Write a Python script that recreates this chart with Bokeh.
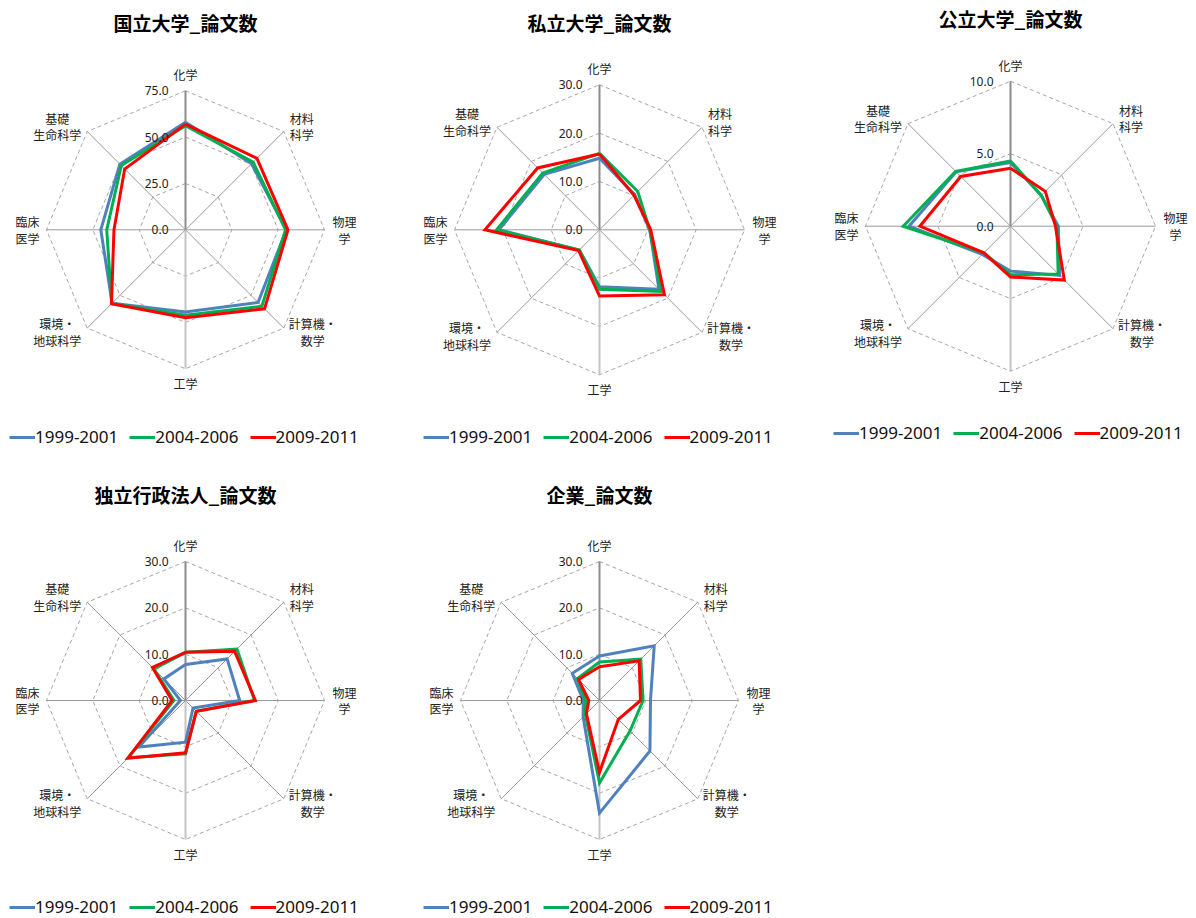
import numpy as np
from bokeh.plotting import figure
from bokeh.models import Range1d, Legend, LegendItem
from bokeh.layouts import column, row
from bokeh.core.properties import value
from bokeh.embed import file_html
from bokeh.resources import INLINE

# ---------------- data ----------------
categories = ["化学", "材料\n科学", "物理\n学", "計算機・\n数学", "工学",
              "環境・\n地球科学", "臨床\n医学", "基礎\n生命科学"]
periods = ["1999-2001", "2004-2006", "2009-2011"]

national_9901 = [58.0, 50.4, 54.4, 55.4, 44.3, 56.0, 45.7, 50.1]
national_0406 = [56.2, 51.6, 54.0, 58.3, 46.1, 56.3, 42.5, 49.0]
national_0911 = [57.0, 54.5, 55.3, 60.3, 47.4, 56.5, 38.6, 46.4]
national_ticks = [0.0, 25.0, 50.0, 75.0]

private_9901 = [14.8, 10.3, 10.4, 17.4, 11.8, 5.9, 20.8, 16.2]
private_0406 = [15.8, 11.2, 10.4, 18.0, 12.3, 5.9, 21.3, 16.6]
private_0911 = [15.7, 10.1, 10.6, 19.0, 13.7, 6.1, 23.7, 18.1]
private_ticks = [0.0, 10.0, 20.0, 30.0]

public_9901 = [4.4, 3.0, 3.3, 4.8, 3.1, 2.75, 7.0, 5.3]
public_0406 = [4.5, 3.0, 3.2, 4.65, 3.35, 2.6, 7.4, 5.35]
public_0911 = [4.0, 3.4, 3.1, 5.25, 3.5, 2.6, 6.25, 4.85]
public_ticks = [0.0, 5.0, 10.0]

iai_9901 = [7.75, 12.7, 11.7, 2.3, 9.0, 14.2, 1.1, 6.6]
iai_0406 = [10.4, 15.7, 14.9, 3.3, 11.5, 17.5, 2.5, 9.6]
iai_0911 = [10.4, 15.0, 15.1, 3.3, 11.3, 17.6, 2.9, 10.1]
iai_ticks = [0.0, 10.0, 20.0, 30.0]

corp_9901 = [9.6, 16.7, 11.0, 15.4, 24.3, 5.0, 3.5, 8.3]
corp_0406 = [8.3, 12.6, 9.4, 9.3, 17.8, 4.3, 3.0, 6.7]
corp_0911 = [7.3, 12.1, 8.85, 5.75, 15.5, 4.0, 2.3, 6.4]
corp_ticks = [0.0, 10.0, 20.0, 30.0]

titles = ["国立大学_論文数", "私立大学_論文数", "公立大学_論文数",
          "独立行政法人_論文数", "企業_論文数"]

# ---------------- styles ----------------
series_colors = ["#4F81BD", "#00B050", "#FF0000"]
CJK = value("Noto Sans CJK JP")
LATIN = "Noto Sans"


def radar(title, series, ticks, W, H, cx, cy, R, title_y, leg_x, leg_y):
    vmax = ticks[-1]
    k = R / vmax  # pixels per data unit
    p = figure(width=W, height=H,
               x_range=Range1d(-cx / k, (W - cx) / k),
               y_range=Range1d(-(H - cy) / k, cy / k),
               output_backend="svg", toolbar_location=None,
               x_axis_location=None, y_axis_location=None,
               min_border=0, outline_line_color=None)
    p.grid.visible = False

    n = len(categories)
    ang = np.arange(n) * 2 * np.pi / n
    sx, sy = np.sin(ang), np.cos(ang)
    sxc, syc = np.append(sx, sx[0]), np.append(sy, sy[0])

    # dashed rings
    for t in ticks[1:]:
        p.line(t * sxc, t * syc, line_color="#A6A6A6", line_width=1,
               line_dash="4 3")
    # spokes
    for i in range(n):
        if i == 0:
            col, w = "#8C8C8C", 2
        elif i == 4:
            col, w = "#C4C4C4", 2
        else:
            col, w = "#9A9A9A", 1
        p.line([0, vmax * sx[i]], [0, vmax * sy[i]], line_color=col,
               line_width=w)

    # series
    items = []
    for vals, colr, lab in zip(series, series_colors, periods):
        v = np.array(vals + [vals[0]])
        r = p.line(v * sxc, v * syc, line_color=colr, line_width=3,
                   line_join="miter")
        items.append(LegendItem(label=lab, renderers=[r]))

    # tick labels
    p.text(x=[-17 / k] * len(ticks), y=ticks,
           text=["%.1f" % t for t in ticks],
           text_align="right", text_baseline="middle",
           text_font=value(LATIN), text_font_size="12px",
           text_color="#222222")

    # category labels (block centre positions)
    d = 0.7071 * R
    offs = [(0, R + 16), (d + 18, d + 5), (R + 20, 0), (d + 29, -d - 4),
            (0, -R - 15), (-d - 30, -d - 4), (-R - 19, 0), (-d - 30, d + 5)]
    p.text(x=[o[0] / k for o in offs], y=[o[1] / k for o in offs],
           text=categories, text_align="center", text_baseline="middle",
           text_font=CJK, text_font_size="12px", text_line_height=0.98,
           text_color="#222222")

    # title
    p.text(x=[0], y=[(cy - title_y) / k], text=[title], text_align="center",
           text_baseline="middle", text_font=CJK, text_font_size="19px",
           text_font_style="bold", text_color="#000000")

    legend = Legend(items=items, orientation="horizontal",
                    location=(leg_x, H - leg_y - 10),
                    glyph_width=26, glyph_height=20, label_height=20,
                    label_standoff=0, spacing=11, padding=0, margin=0,
                    border_line_color=None, background_fill_alpha=0,
                    label_text_font=LATIN, label_text_font_size="17px",
                    label_text_color="#111111")
    p.add_layout(legend)
    return p


p1 = radar(titles[0], [national_9901, national_0406, national_0911],
           national_ticks, 404, 460, 185, 229.3, 139, 22, 9, 438)
p2 = radar(titles[1], [private_9901, private_0406, private_0911],
           private_ticks, 400, 460, 195, 229.3, 145, 22, 19, 438)
p3 = radar(titles[2], [public_9901, public_0406, public_0911],
           public_ticks, 392, 460, 206, 225.7, 145, 18, 29, 434)
p4 = radar(titles[3], [iai_9901, iai_0406, iai_0911],
           iai_ticks, 404, 458, 185, 240, 139, 34, 9, 448)
p5 = radar(titles[4], [corp_9901, corp_0406, corp_0911],
           corp_ticks, 400, 458, 195, 240, 139, 34, 19, 448)

layout = column(row(p1, p2, p3), row(p4, p5))
open("out.html", "w").write(file_html(layout, INLINE))
